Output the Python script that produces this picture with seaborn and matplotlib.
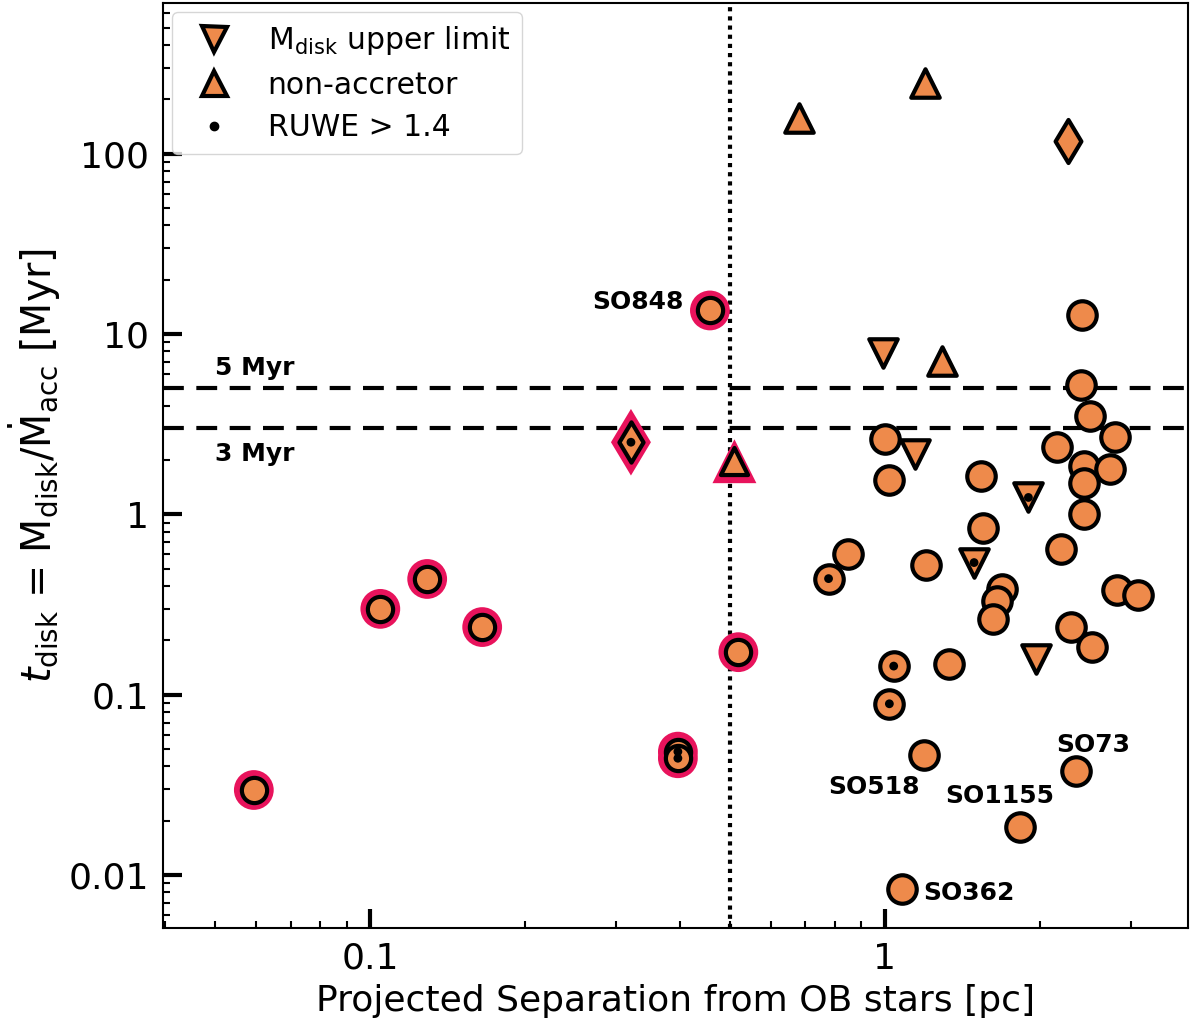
import matplotlib
matplotlib.use("Agg")
import matplotlib.pyplot as plt
from matplotlib.lines import Line2D
import numpy as np
import pandas as pd
import seaborn as sns

# accreting disks, black edge
circ_x = [2.41, 2.40, 2.50, 2.80, 1.00, 2.16, 2.44, 2.74, 2.44, 1.02, 1.54, 2.44, 1.55, 2.20, 0.848,
          0.777, 1.20, 1.69, 1.65, 1.62, 2.82, 3.10, 2.30, 2.52, 1.33, 1.04, 1.02, 1.19, 2.35, 1.83, 1.08]
circ_y = [12.8, 5.19, 3.53, 2.68, 2.60, 2.35, 1.85, 1.78, 1.50, 1.54, 1.63, 1.00, 0.836, 0.64, 0.60,
          0.44, 0.524, 0.384, 0.331, 0.262, 0.381, 0.357, 0.238, 0.184, 0.148, 0.144, 0.089, 0.046, 0.0376, 0.0185, 0.0084]
circ_ruwe = [0, 0, 0, 0, 0, 0, 0, 0, 0, 0, 0, 0, 0, 0, 0,
             1, 0, 0, 0, 0, 0, 0, 0, 0, 0, 1, 1, 0, 0, 0, 0]

# Mdisk upper limits
ul_x = [0.99, 1.145, 1.90, 1.49, 1.97]
ul_y = [7.87, 2.15, 1.24, 0.54, 0.157]
ul_ruwe = [0, 0, 1, 1, 0]

# non-accretors
na_x = [0.681, 1.195, 1.29]
na_y = [158, 246, 7.07]

# both limits
dia_x = [2.27]
dia_y = [118]

# highlighted (pink) sources
pk_circ_x = [0.0594, 0.1046, 0.129, 0.165, 0.396, 0.396, 0.519, 0.457]
pk_circ_y = [0.0296, 0.299, 0.438, 0.237, 0.0483, 0.0444, 0.172, 13.5]
pk_circ_ruwe = [0, 0, 0, 0, 1, 1, 0, 0]
pk_dia_x = [0.321]
pk_dia_y = [2.51]
pk_na_x = [0.510]
pk_na_y = [1.97]

labels = ["SO848", "SO518", "SO1155", "SO73", "SO362"]
label_x = [0.457, 1.19, 1.83, 2.35, 1.08]
label_y = [13.5, 0.046, 0.0185, 0.0376, 0.0084]
label_off = [(-19, 6), (-3, -23), (25, 22), (-14, 19), (15, -3)]
label_ha = ["right", "right", "right", "left", "left"]

orange = "#EE8A4B"
pink = "#E8135C"

sns.set_style("white")
plt.rcParams["font.family"] = ["DejaVu Sans"]
plt.rcParams["mathtext.fontset"] = "dejavusans"
for k in ["text.color", "axes.labelcolor", "xtick.color", "ytick.color"]:
    plt.rcParams[k] = "black"

fig = plt.figure(figsize=(12, 10.25), dpi=100)
ax = fig.add_axes([0.136, 0.0946, 0.854, 0.902])


def scat(x, y, marker, s, face, edge, lw, z):
    df = pd.DataFrame({"x": x, "y": y})
    sns.scatterplot(data=df, x="x", y="y", marker=marker, s=s, color=face,
                    edgecolor=edge, linewidth=lw, ax=ax, zorder=z, legend=False)


# pink halos underneath
scat(pk_circ_x, pk_circ_y, "o", 820, pink, "none", 0, 3)
scat(pk_dia_x, pk_dia_y, "d", 1150, pink, "none", 0, 3)
scat(pk_na_x, pk_na_y, "^", 1000, pink, "none", 0, 3)
scat(pk_circ_x, pk_circ_y, "o", 330, orange, "black", 3, 4)
scat(pk_dia_x, pk_dia_y, "d", 420, orange, "black", 3, 4)
scat(pk_na_x, pk_na_y, "^", 380, orange, "black", 3, 4)

scat(circ_x, circ_y, "o", 420, orange, "black", 3, 4)
scat(ul_x, ul_y, "v", 420, orange, "black", 3, 4)
scat(na_x, na_y, "^", 420, orange, "black", 3, 4)
scat(dia_x, dia_y, "d", 480, orange, "black", 3, 4)

# RUWE > 1.4 dots
rx = [x for x, r in zip(circ_x + ul_x + pk_circ_x + pk_dia_x,
                        circ_ruwe + ul_ruwe + pk_circ_ruwe + [1]) if r]
ry = [y for y, r in zip(circ_y + ul_y + pk_circ_y + pk_dia_y,
                        circ_ruwe + ul_ruwe + pk_circ_ruwe + [1]) if r]
scat(rx, ry, "o", 40, "black", "none", 0, 5)

ax.axhline(5, color="black", ls=(0, (5, 3)), lw=3, zorder=2)
ax.axhline(3, color="black", ls=(0, (5, 3)), lw=3, zorder=2)
ax.axvline(0.5, color="black", ls=(0, (1, 1.2)), lw=3, zorder=2)

ax.text(0.05, 6.5, "5 Myr", fontsize=18, fontweight="bold", va="center", ha="left")
ax.text(0.05, 2.15, "3 Myr", fontsize=18, fontweight="bold", va="center", ha="left")

for lab, lx, ly, off, ha in zip(labels, label_x, label_y, label_off, label_ha):
    ax.annotate(lab, (lx, ly), xytext=off, textcoords="offset points",
                fontsize=18, fontweight="bold", ha=ha, va="center", zorder=6)

ax.set_xscale("log")
ax.set_yscale("log")
ax.set_xlim(0.0396, 3.88)
ax.set_ylim(0.00508, 680)
ax.set_xticks([0.1, 1])
ax.set_xticklabels(["0.1", "1"])
ax.set_yticks([0.01, 0.1, 1, 10, 100])
ax.set_yticklabels(["0.01", "0.1", "1", "10", "100"])

ax.tick_params(which="both", bottom=True, left=True, top=False, right=False, direction="in")
ax.tick_params(which="major", length=14, width=3, labelsize=26, pad=10)
ax.tick_params(which="minor", length=5, width=1.5)
for sp in ax.spines.values():
    sp.set_linewidth(1.5)
    sp.set_color("black")

ax.set_xlabel("Projected Separation from OB stars [pc]", fontsize=26, labelpad=6)
ax.set_ylabel(r"$t_{\rm disk}$ = M$_{\rm disk}$/$\dot{\rm M}_{\rm acc}$ [Myr]", fontsize=28.5)

handles = [
    Line2D([], [], ls="none", marker="v", ms=18, mfc=orange, mec="black", mew=3),
    Line2D([], [], ls="none", marker="^", ms=18, mfc=orange, mec="black", mew=3),
    Line2D([], [], ls="none", marker="o", ms=6, mfc="black", mec="black"),
]
ax.legend(handles, [r"M$_{\rm disk}$ upper limit", "non-accretor", "RUWE > 1.4"],
          loc="upper left", fontsize=21.5, frameon=True, edgecolor="#cccccc",
          handletextpad=0.8, borderpad=0.4, labelspacing=0.45, borderaxespad=0.3)

fig.savefig("out.png", dpi=100)
